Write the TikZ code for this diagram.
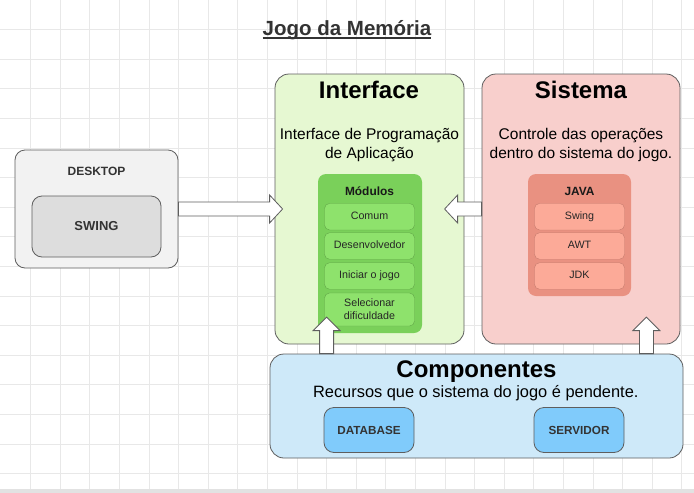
\documentclass[tikz,border=0pt]{standalone}
\usepackage{fontspec}
\setmainfont{Liberation Sans}
\usetikzlibrary{positioning,calc}

\definecolor{gridgray}{HTML}{E8E8E8}
\definecolor{stripgray}{HTML}{E2E2E2}
\definecolor{boxline}{HTML}{5E5E5E}
\definecolor{titlegray}{HTML}{333333}
\definecolor{desktopfill}{HTML}{F2F2F2}
\definecolor{swingfill}{HTML}{DDDDDD}
\definecolor{ifacefill}{HTML}{E6F8D2}
\definecolor{modfill}{HTML}{7AD05A}
\definecolor{moditem}{HTML}{8EE26C}
\definecolor{sysfill}{HTML}{F8CFCC}
\definecolor{javafill}{HTML}{E99181}
\definecolor{javaitem}{HTML}{FCAA98}
\definecolor{compfill}{HTML}{CEE9F9}
\definecolor{compitem}{HTML}{80CBFB}

\tikzset{
  panel/.style={draw=boxline, line width=0.8pt, rounded corners=14pt, inner sep=0pt},
  heading/.style={font=\bfseries\fontsize{24}{28}\selectfont, anchor=base, inner sep=0pt},
  subtext/.style={font=\fontsize{15.5}{19}\selectfont, align=center, anchor=base, inner sep=0pt},
  boxlabel/.style={font=\bfseries\fontsize{11.9}{14}\selectfont, text=titlegray, anchor=base, inner sep=0pt},
  item/.style={rounded corners=5pt, minimum width=90pt, minimum height=26.5pt, inner sep=0pt,
    align=center, font=\fontsize{10.7}{13}\selectfont},
  oneline/.style={text height=0.72em, text depth=0.2em},
  moditembox/.style={item, fill=moditem, draw=modfill!80!black, line width=0.4pt, text=black!85},
  javaitembox/.style={item, oneline, fill=javaitem, draw=javafill!85!black, line width=0.4pt, text=black!85},
  bigarrow/.style={draw=boxline, fill=white, line width=0.8pt, line join=miter},
}

\begin{document}
\begin{tikzpicture}[x=1pt,y=-1pt]
\useasboundingbox (0,0) rectangle (694,493);
\fill[white] (0,0) rectangle (694,493);

% grid
\foreach \i in {1,...,23}
  \draw[gridgray, line width=0.7pt] (1+29.6*\i,0) -- (1+29.6*\i,489);
\foreach \j in {1,...,16}
  \draw[gridgray, line width=0.7pt] (0,29.6*\j) -- (694,29.6*\j);
\fill[stripgray] (0,489) rectangle (694,493);

% title
\node[font=\bfseries\fontsize{20.5}{24}\selectfont, text=titlegray, anchor=base, inner sep=0pt] (title) at (347,35) {Jogo da Memória};
\draw[titlegray, line width=1.5pt] ($(title.base west)+(0,3)$) -- ($(title.base east)+(0,3)$);

% desktop
\node[panel, rounded corners=10pt, fill=desktopfill, minimum width=163pt, minimum height=118pt] (desktop) at (96.5,209) {};
\node[boxlabel, font=\bfseries\fontsize{12}{14}\selectfont] (desktoptitle) at (96.5,175.7) {DESKTOP};
\node[panel, rounded corners=10pt, fill=swingfill, minimum width=129pt, minimum height=61pt,
  font=\bfseries\fontsize{13}{15}\selectfont, text=titlegray] (swing) at (96.5,226.5) {SWING};

% interface
\node[panel, fill=ifacefill, minimum width=189pt, minimum height=270pt] (interface) at (369.5,209) {};
\node[heading] (ifacetitle) at (369,98.7) {Interface};
\node[subtext] (ifacetext) at (369.5,158.3) {Interface de Programação\\de Aplicação};
\node[rounded corners=8pt, fill=modfill, minimum width=104pt, minimum height=159pt] (modulos) at (370,253.5) {};
\node[boxlabel, text=black!90] (modtitle) at (369.5,195) {Módulos};
\node[moditembox, oneline] (comum) at (369.5,216.7) {Comum};
\node[moditembox, oneline] (desenv) at (369.5,246) {Desenvolvedor};
\node[moditembox, oneline] (iniciar) at (369.5,276) {Iniciar o jogo};
\node[moditembox, minimum height=33pt] (selecionar) at (369.5,309.5) {Selecionar\\dificuldade};

% sistema
\node[panel, fill=sysfill, minimum width=198pt, minimum height=270pt] (sistema) at (581,209) {};
\node[heading] (systitle) at (581,98.7) {Sistema};
\node[subtext] (systext) at (581,158.3) {Controle das operações\\dentro do sistema do jogo.};
\node[rounded corners=8pt, fill=javafill, minimum width=103pt, minimum height=122pt] (java) at (579.5,235) {};
\node[boxlabel, text=black!90] (javatitle) at (579.5,195) {JAVA};
\node[javaitembox] (swinglib) at (579.5,216.7) {Swing};
\node[javaitembox] (awt) at (579.5,246) {AWT};
\node[javaitembox] (jdk) at (579.5,276) {JDK};

% componentes
\node[panel, fill=compfill, minimum width=413pt, minimum height=104pt] (componentes) at (476.5,406) {};
\node[heading] (comptitle) at (476.5,377) {Componentes};
\node[subtext, font=\fontsize{16.4}{19}\selectfont] (comptext) at (475.8,397.5) {Recursos que o sistema do jogo é pendente.};
\node[panel, rounded corners=10pt, fill=compitem, minimum width=90pt, minimum height=45pt,
  font=\bfseries\fontsize{11.7}{14}\selectfont, text=titlegray] (database) at (369,430) {DATABASE};
\node[panel, rounded corners=10pt, fill=compitem, minimum width=90pt, minimum height=45pt,
  font=\bfseries\fontsize{11.7}{14}\selectfont, text=titlegray] (servidor) at (579,430) {SERVIDOR};

% block arrows
\draw[bigarrow] ($(desktop.east)+(0,-7)$) -- ($(interface.west)+(-5,-7)$) -- ($(interface.west)+(-5,-14)$)
  -- ($(interface.west)+(8,0)$) -- ($(interface.west)+(-5,14)$) -- ($(interface.west)+(-5,7)$)
  -- ($(desktop.east)+(0,7)$) -- cycle;
\draw[bigarrow] ($(sistema.west)+(0,-7)$) -- ($(sistema.west)+(-24,-7)$) -- ($(sistema.west)+(-24,-14)$)
  -- ($(sistema.west)+(-37,0)$) -- ($(sistema.west)+(-24,14)$) -- ($(sistema.west)+(-24,7)$)
  -- ($(sistema.west)+(0,7)$) -- cycle;
\draw[bigarrow] ($(componentes.north west)+(50,0)$) -- ++(0,-23) -- ++(-6.5,0) -- ++(13.5,-13.5)
  -- ++(13.5,13.5) -- ++(-6.5,0) -- ++(0,23) -- cycle;
\draw[bigarrow] ($(componentes.north east)+(-44,0)$) -- ++(0,-23) -- ++(-6.5,0) -- ++(13.5,-13.5)
  -- ++(13.5,13.5) -- ++(-6.5,0) -- ++(0,23) -- cycle;
\end{tikzpicture}
\end{document}
